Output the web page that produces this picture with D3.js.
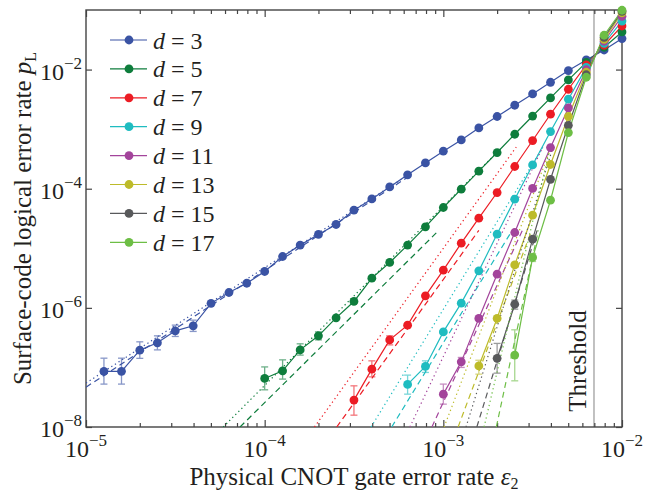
<!DOCTYPE html>
<html>
<head>
<meta charset="utf-8">
<script src="https://cdn.jsdelivr.net/npm/d3@7"></script>
<style>
  body { margin: 0; background: #fff; }
  svg { display: block; }
  text { font-family: "Liberation Serif", "Times New Roman", serif; fill: #231f20; }
</style>
</head>
<body>
<div id="chart"></div>
<script>
// physical CNOT error rates (shared grid, 0.1 decade steps)
const EPS = [
  1.26e-5, 1.58e-5, 2.0e-5, 2.51e-5, 3.16e-5, 3.98e-5, 5.01e-5, 6.31e-5, 7.94e-5, 1.0e-4,
  1.26e-4, 1.58e-4, 2.0e-4, 2.51e-4, 3.16e-4, 3.98e-4, 5.01e-4, 6.31e-4, 7.94e-4, 1.0e-3,
  1.26e-3, 1.58e-3, 2.0e-3, 2.51e-3, 3.16e-3, 3.98e-3, 5.01e-3, 6.31e-3, 7.94e-3, 1.0e-2
];

const DISTANCES = [3, 5, 7, 9, 11, 13, 15, 17];
const COLORS = ["#3a53a4", "#0e7d3c", "#ec1c24", "#1fbcc0", "#a3449b", "#bdbb2a", "#58595b", "#6dbe45"];

// logical error rates, each list ends at eps = 1e-2
const PL_D3 = [8.6e-8, 8.6e-8, 1.95e-7, 2.59e-7, 4.11e-7, 4.99e-7, 1.19e-6, 1.81e-6, 2.59e-6, 4.08e-6,
  7.28e-6, 1.13e-5, 1.71e-5, 2.51e-5, 4.36e-5, 6.75e-5, 1.07e-4, 1.71e-4, 2.71e-4, 4.26e-4,
  6.59e-4, 1.05e-3, 1.63e-3, 2.52e-3, 3.9e-3, 6.12e-3, 9.62e-3, 1.45e-2, 2.13e-2, 3.31e-2];
const PL_D5 = [6.53e-8, 8.77e-8, 1.97e-7, 3.39e-7, 6.79e-7, 1.28e-6, 3.15e-6, 5.78e-6, 1.13e-5, 2.29e-5,
  4.84e-5, 9.82e-5, 1.97e-4, 4.05e-4, 8.21e-4, 1.66e-3, 3.34e-3, 6.7e-3, 1.32e-2, 2.37e-2, 4.28e-2];
const PL_D7 = [2.83e-8, 9.36e-8, 2.9e-7, 5.13e-7, 1.59e-6, 4.29e-6, 1.22e-5, 3.2e-5, 8.63e-5, 2.36e-4,
  6.44e-4, 1.78e-3, 4.67e-3, 1.2e-2, 2.56e-2, 5.39e-2];
const PL_D9 = [5.19e-8, 1.04e-7, 3.95e-7, 1.2e-6, 4.18e-6, 1.73e-5, 6.67e-5, 2.51e-4, 9.12e-4, 3.18e-3,
  1.09e-2, 2.76e-2, 6.53e-2];
const PL_D11 = [3.56e-8, 1.24e-7, 6.64e-7, 3.67e-6, 1.84e-5, 1.01e-4, 4.91e-4, 2.27e-3, 9.93e-3, 2.99e-2, 7.83e-2];
const PL_D13 = [1.06e-7, 6.64e-7, 5.26e-6, 3.59e-5, 2.55e-4, 1.63e-3, 9.01e-3, 3.22e-2, 8.97e-2];
const PL_D15 = [1.42e-7, 1.15e-6, 1.42e-5, 1.44e-4, 1.16e-3, 8.18e-3, 3.48e-2, 9.51e-2];
const PL_D17 = [1.61e-7, 7.01e-6, 6.41e-5, 8.77e-4, 7.43e-3, 3.77e-2, 9.9e-2];

// error bars [low, high] for the first points of each series
const ERR_D3 = [[5.25e-8, 1.43e-7], [5.25e-8, 1.43e-7], [1.42e-7, 2.69e-7], [1.97e-7, 3.39e-7], [3.31e-7, 5.13e-7], [4.02e-7, 6.22e-7]];
const ERR_D5 = [[4.21e-8, 1.02e-7], [6.37e-8, 1.34e-7], [1.61e-7, 2.49e-7], [2.9e-7, 3.95e-7]];
const ERR_D7 = [[1.58e-8, 4.91e-8], [6.95e-8, 1.29e-7], [2.39e-7, 3.39e-7]];
const ERR_D9 = [[3.56e-8, 7.43e-8], [8.24e-8, 1.29e-7]];
const ERR_D11 = [[2.42e-8, 5.25e-8], [1.0e-7, 1.47e-7]];
const ERR_D13 = [[7.71e-8, 1.32e-7]];
const ERR_D15 = [[8.02e-8, 2.53e-7], [9.51e-7, 1.35e-6]];
const ERR_D17 = [[5.96e-8, 4.28e-7], [6.0e-6, 8.2e-6]];

// fit lines: [eps0, pL0, eps1, pL1]
const FIT_DOTTED = [
  [1e-5, 5.46e-8, 6.31e-4, 1.68e-4],
  [5.86e-5, 1e-8, 2.14e-3, 5e-4],
  [1.9e-4, 1e-8, 2.56e-3, 5e-4],
  [3.94e-4, 1e-8, 3.61e-3, 5e-4],
  [6.5e-4, 1e-8, 3.6e-3, 5e-4],
  [1.01e-3, 1e-8, 4.02e-3, 5e-4],
  [1.34e-3, 1e-8, 4.11e-3, 5e-4],
  [1.69e-3, 1e-8, 3.97e-3, 5e-4]
];
const FIT_DASHED = [
  [1e-5, 4.67e-8, 6.31e-4, 1.56e-4],
  [7.28e-5, 1e-8, 9.44e-4, 2e-5],
  [2.53e-4, 1e-8, 1.58e-3, 2e-5],
  [5.14e-4, 1e-8, 2.43e-3, 2e-5],
  [8.63e-4, 1e-8, 2.77e-3, 2e-5],
  [1.21e-3, 1e-8, 3.12e-3, 2e-5],
  [1.54e-3, 1e-8, 3.35e-3, 2e-5],
  [1.98e-3, 1e-8, 3.4e-3, 2e-5]
];

const THRESHOLD = 6.97e-3;
const X_MAJOR = [1e-5, 1e-4, 1e-3, 1e-2];
const Y_MAJOR = [1e-8, 1e-6, 1e-4, 1e-2];

const PL = [PL_D3, PL_D5, PL_D7, PL_D9, PL_D11, PL_D13, PL_D15, PL_D17];
const ERR = [ERR_D3, ERR_D5, ERR_D7, ERR_D9, ERR_D11, ERR_D13, ERR_D15, ERR_D17];

const SERIF = "'Liberation Serif', 'Times New Roman', Times, serif";
const width = 645, height = 492;
const plot = { left: 86, right: 622, top: 10, bottom: 427 };

const svg = d3.select("#chart").append("svg")
  .attr("width", width).attr("height", height)
  .style("font-family", SERIF);

const x = d3.scaleLog().domain([1e-5, 1e-2]).range([plot.left, plot.right]);
const y = d3.scaleLog().domain([1e-8, 1e-1]).range([plot.bottom, plot.top]);

svg.append("defs").append("clipPath").attr("id", "clip")
  .append("rect")
  .attr("x", plot.left).attr("y", plot.top)
  .attr("width", plot.right - plot.left).attr("height", plot.bottom - plot.top);

// threshold line
svg.append("line")
  .attr("x1", x(THRESHOLD)).attr("x2", x(THRESHOLD))
  .attr("y1", plot.top).attr("y2", plot.bottom)
  .attr("stroke", "#a0a0a0").attr("stroke-width", 1.3);

svg.append("text")
  .attr("transform", `translate(${x(THRESHOLD) - 8},${361}) rotate(-90)`)
  .attr("text-anchor", "middle")
  .style("font-family", SERIF)
  .style("font-size", "25px")
  .text("Threshold");

// axes, ticks pointing inward
const xMinor = x.ticks().filter(v => !X_MAJOR.some(m => Math.abs(m - v) / m < 1e-6));

function xAxis(g, gen, ty) {
  g.attr("transform", `translate(0,${ty})`).call(gen);
  g.select(".domain").remove();
  g.selectAll(".tick line").attr("stroke", "#444").attr("stroke-width", 1.2);
}

svg.append("g").call(g => xAxis(g, d3.axisBottom(x).tickValues(xMinor).tickSize(-4).tickFormat(""), plot.bottom));
svg.append("g").call(g => xAxis(g, d3.axisBottom(x).tickValues(X_MAJOR).tickSize(-7).tickFormat(""), plot.bottom));
svg.append("g").call(g => xAxis(g, d3.axisTop(x).tickValues(xMinor).tickSize(-4).tickFormat(""), plot.top));
svg.append("g").call(g => xAxis(g, d3.axisTop(x).tickValues(X_MAJOR).tickSize(-7).tickFormat(""), plot.top));

function yAxis(g, gen, tx) {
  g.attr("transform", `translate(${tx},0)`).call(gen);
  g.select(".domain").remove();
  g.selectAll(".tick line").attr("stroke", "#444").attr("stroke-width", 1.2);
}
svg.append("g").call(g => yAxis(g, d3.axisLeft(y).tickValues(Y_MAJOR).tickSize(-6).tickFormat(""), plot.left));
svg.append("g").call(g => yAxis(g, d3.axisRight(y).tickValues(Y_MAJOR).tickSize(-6).tickFormat(""), plot.right));

// frame
svg.append("rect")
  .attr("x", plot.left).attr("y", plot.top)
  .attr("width", plot.right - plot.left).attr("height", plot.bottom - plot.top)
  .attr("fill", "none").attr("stroke", "#444").attr("stroke-width", 1.4);

// tick labels 10^k
function powLabel(sel, v) {
  const e = Math.round(Math.log10(v));
  sel.append("tspan").text("10");
  sel.append("tspan").attr("dy", -11).style("font-size", "17px").text("\u2212" + Math.abs(e));
}

X_MAJOR.forEach(v => {
  svg.append("text")
    .attr("x", x(v)).attr("y", 457)
    .attr("text-anchor", "middle")
    .style("font-family", SERIF)
    .style("font-size", "24px")
    .call(powLabel, v);
});

Y_MAJOR.forEach(v => {
  svg.append("text")
    .attr("x", plot.left - 4).attr("y", y(v) + 10)
    .attr("text-anchor", "end")
    .style("font-family", SERIF)
    .style("font-size", "24px")
    .call(powLabel, v);
});

// axis titles
const xt = svg.append("text")
  .attr("x", (plot.left + plot.right) / 2).attr("y", 485)
  .attr("text-anchor", "middle")
  .style("font-family", SERIF)
  .style("font-size", "25px");
xt.append("tspan").text("Physical CNOT gate error rate ");
xt.append("tspan").style("font-style", "italic").text("\u03b5");
xt.append("tspan").attr("dy", 4).style("font-size", "16px").text("2");

const yt = svg.append("text")
  .attr("transform", `translate(31,${(plot.top + plot.bottom) / 2}) rotate(-90)`)
  .attr("text-anchor", "middle")
  .style("font-family", SERIF)
  .style("font-size", "25px");
yt.append("tspan").text("Surface-code logical error rate ");
yt.append("tspan").style("font-style", "italic").text("p");
yt.append("tspan").attr("dy", 5).style("font-size", "16px").text("L");

// data
const plotArea = svg.append("g").attr("clip-path", "url(#clip)");

DISTANCES.forEach((d, i) => {
  const color = COLORS[i];
  const vals = PL[i];
  const xs = EPS.slice(EPS.length - vals.length);
  const pts = vals.map((p, k) => ({ e: xs[k], p }));

  const fits = [[FIT_DOTTED[i], "1.3,3"], [FIT_DASHED[i], "6,4"]];
  fits.forEach(([f, dash]) => {
    plotArea.append("line")
      .attr("x1", x(f[0])).attr("y1", y(f[1]))
      .attr("x2", x(f[2])).attr("y2", y(f[3]))
      .attr("stroke", color).attr("stroke-width", 1.2)
      .attr("stroke-dasharray", dash);
  });

  const eg = plotArea.append("g")
    .attr("stroke", color).attr("stroke-width", 1.3).attr("opacity", 0.6);
  ERR[i].forEach((r, k) => {
    const cx = x(xs[k]);
    eg.append("line").attr("x1", cx).attr("x2", cx).attr("y1", y(r[0])).attr("y2", y(r[1]));
    eg.append("line").attr("x1", cx - 3.5).attr("x2", cx + 3.5).attr("y1", y(r[0])).attr("y2", y(r[0]));
    eg.append("line").attr("x1", cx - 3.5).attr("x2", cx + 3.5).attr("y1", y(r[1])).attr("y2", y(r[1]));
  });

  plotArea.append("path")
    .datum(pts)
    .attr("fill", "none")
    .attr("stroke", color).attr("stroke-width", 1.2)
    .attr("d", d3.line().x(p => x(p.e)).y(p => y(p.p)));

  svg.append("g").selectAll("circle")
    .data(pts)
    .join("circle")
    .attr("cx", p => x(p.e)).attr("cy", p => y(p.p))
    .attr("r", 4.4)
    .attr("fill", color);
});

// legend
const legend = svg.append("g");
DISTANCES.forEach((d, i) => {
  const cy = 40 + i * 28.9;
  legend.append("line")
    .attr("x1", 110).attr("x2", 147).attr("y1", cy).attr("y2", cy)
    .attr("stroke", COLORS[i]).attr("stroke-width", 1.2);
  legend.append("circle").attr("cx", 129).attr("cy", cy).attr("r", 4.4).attr("fill", COLORS[i]);
  const t = legend.append("text")
    .attr("x", 153).attr("y", cy + 8.5)
    .style("font-family", SERIF)
    .style("font-size", "24px");
  t.append("tspan").style("font-style", "italic").text("d");
  t.append("tspan").text(" = " + d);
});
</script>
</body>
</html>
